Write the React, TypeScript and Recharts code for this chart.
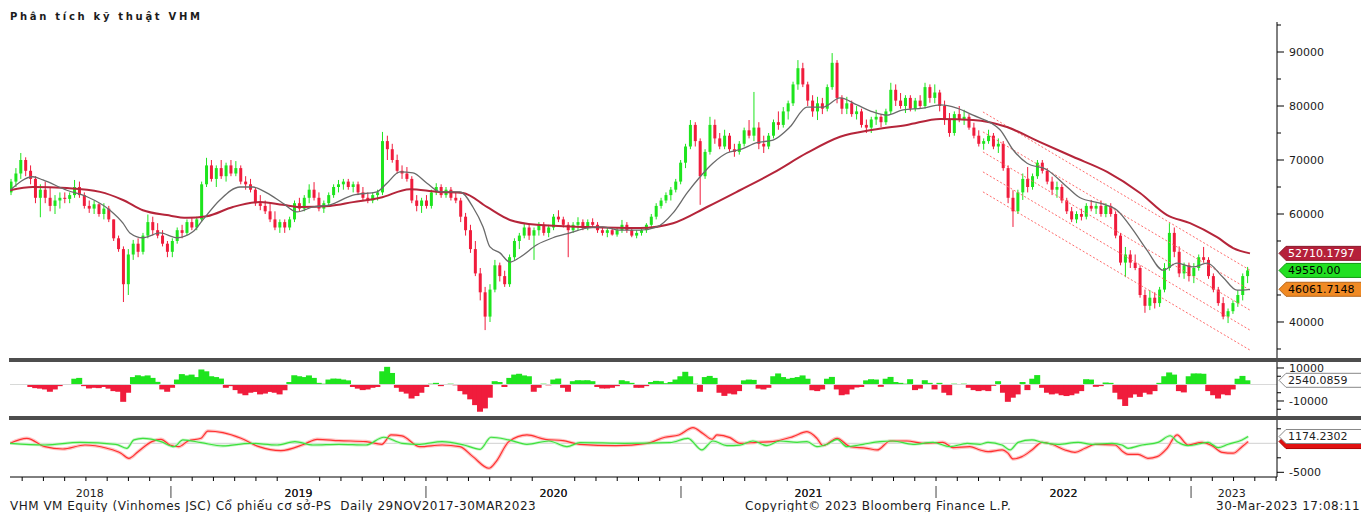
import React from "react";
import {
  ComposedChart,
  Bar,
  Line,
  XAxis,
  YAxis,
  ReferenceLine,
  ReferenceDot,
  Cell,
} from "recharts";

const FONT = "'DejaVu Sans', Verdana, sans-serif";
const INK = "#1c1c1c";
const W = 1361;
const PLOT_LEFT = 10;
const AXIS_W = 84;

// time axis in decimal years; first weekly bar = week of 17 May 2018 (listing)
const T_MIN = 2018.369;
const T_MAX = 2023.337;
const FIRST_WEEK = 2018.373;
const WEEK = 7 / 365.25;

const UP = "#1ee41e";
const DOWN = "#f01c3c";

// weekly candles [open, high, low, close], thousand VND
const ohlc2018 = [
  [64.0, 66.5, 63.5, 66.0], [66.0, 68.5, 65.0, 67.5], [67.5, 71.3, 66.5, 70.0], [70.0, 70.5, 67.0, 68.0],
  [68.0, 69.0, 65.5, 66.5], [66.5, 67.0, 62.0, 63.0], [63.0, 65.5, 59.4, 64.5], [64.5, 66.0, 62.0, 63.0],
  [63.0, 65.0, 60.5, 61.5], [61.5, 63.5, 60.0, 62.5], [62.5, 64.0, 61.0, 63.0], [63.0, 64.0, 62.0, 62.8],
  [62.8, 64.0, 62.0, 63.5], [63.5, 66.3, 63.0, 65.0], [65.0, 66.0, 63.0, 63.5], [63.5, 64.0, 61.0, 61.5],
  [61.5, 62.5, 60.2, 61.0], [61.0, 62.5, 60.0, 61.8], [61.8, 62.0, 59.5, 60.0], [60.0, 62.0, 59.0, 61.0],
  [61.0, 61.5, 58.5, 59.0], [59.0, 59.0, 55.0, 55.5], [55.5, 56.0, 53.0, 53.5], [53.5, 54.0, 43.7, 47.0],
  [47.0, 53.5, 45.0, 52.5], [52.5, 55.2, 51.5, 54.5], [54.5, 55.5, 52.0, 53.0], [53.0, 56.5, 52.5, 56.0],
  [56.0, 59.9, 55.5, 58.5], [58.5, 59.5, 56.0, 57.0], [57.0, 58.3, 55.5, 56.0], [56.0, 57.0, 54.0, 54.5],
  [54.5, 55.0, 52.0, 53.0],
];
const ohlc2019 = [
  [53.0, 55.5, 52.0, 55.0], [55.0, 57.5, 54.5, 57.0], [57.0, 58.0, 55.5, 56.5], [56.5, 59.0, 56.0, 58.5],
  [58.5, 59.4, 57.0, 57.5], [57.5, 59.5, 57.0, 59.0], [59.0, 66.0, 58.5, 65.5], [65.5, 70.4, 65.0, 69.0],
  [69.0, 70.0, 66.0, 66.5], [66.5, 69.0, 65.0, 68.5], [68.5, 70.0, 66.5, 67.0], [67.0, 69.5, 66.0, 69.0],
  [69.0, 70.0, 67.0, 67.5], [67.5, 69.8, 67.0, 68.5], [68.5, 69.0, 65.5, 66.0], [66.0, 67.0, 64.5, 65.5],
  [65.5, 66.5, 64.0, 64.5], [64.5, 65.0, 61.5, 62.0], [62.0, 63.5, 60.7, 61.5], [61.5, 62.5, 60.0, 60.5],
  [60.5, 62.0, 58.5, 59.0], [59.0, 60.5, 57.0, 57.5], [57.5, 59.0, 56.5, 58.5], [58.5, 59.0, 56.5, 57.5],
  [57.5, 59.5, 57.0, 59.0], [59.0, 62.5, 58.5, 62.0], [62.0, 63.0, 60.5, 61.0], [61.0, 63.5, 60.5, 63.0],
  [63.0, 65.5, 62.0, 64.5], [64.5, 65.9, 62.5, 63.0], [63.0, 64.0, 60.5, 61.0], [61.0, 62.5, 60.2, 62.0],
  [62.0, 64.0, 61.5, 63.5], [63.5, 65.5, 63.0, 65.0], [65.0, 66.3, 64.0, 65.5], [65.5, 66.5, 64.5, 66.0],
  [66.0, 66.5, 64.5, 65.0], [65.0, 66.0, 64.0, 65.5], [65.5, 66.0, 63.5, 64.0], [64.0, 65.0, 62.5, 63.0],
  [63.0, 64.0, 62.0, 62.5], [62.5, 64.0, 62.0, 63.5], [63.5, 64.5, 62.5, 64.0], [64.0, 75.2, 63.5, 73.5],
  [73.5, 74.5, 70.0, 72.0], [72.0, 73.0, 69.5, 70.0], [70.0, 71.0, 67.5, 68.0], [68.0, 69.0, 66.5, 67.5],
  [67.5, 68.7, 66.0, 66.5], [66.5, 67.0, 62.0, 62.5], [62.5, 63.5, 60.5, 61.5], [61.5, 63.0, 60.2, 62.5],
];
const ohlc2020 = [
  [62.5, 63.5, 61.0, 61.5], [61.5, 64.5, 61.0, 64.0], [64.0, 65.7, 63.5, 65.0], [65.0, 65.5, 63.0, 63.5],
  [63.5, 65.0, 63.0, 64.5], [64.5, 65.0, 62.5, 63.0], [63.0, 64.0, 62.0, 62.5], [62.5, 63.0, 58.5, 59.5],
  [59.5, 60.2, 56.0, 57.0], [57.0, 58.0, 52.8, 53.5], [53.5, 55.0, 48.5, 49.0], [49.0, 50.0, 44.0, 45.5],
  [45.5, 46.5, 38.5, 41.0], [41.0, 47.0, 40.0, 46.0], [46.0, 51.5, 45.5, 50.5], [50.5, 51.0, 47.5, 48.5],
  [48.5, 49.5, 46.5, 47.0], [47.0, 52.5, 46.5, 52.0], [52.0, 55.5, 51.5, 55.0], [55.0, 56.5, 53.5, 56.0],
  [56.0, 58.3, 55.5, 57.5], [57.5, 58.0, 55.2, 56.0], [56.0, 57.5, 51.5, 57.0], [57.0, 58.5, 56.0, 58.0],
  [58.0, 58.5, 56.0, 56.5], [56.5, 58.0, 55.7, 57.5], [57.5, 60.0, 57.0, 59.5], [59.5, 60.7, 58.5, 59.0],
  [59.0, 59.5, 57.5, 58.0], [58.0, 58.5, 52.0, 57.0], [57.0, 58.5, 56.5, 58.0], [58.0, 59.4, 57.0, 58.5],
  [58.5, 59.0, 57.0, 57.5], [57.5, 59.0, 57.0, 58.5], [58.5, 59.2, 57.5, 58.0], [58.0, 58.5, 56.5, 57.0],
  [57.0, 57.6, 56.0, 56.5], [56.5, 57.5, 55.7, 57.0], [57.0, 57.5, 56.0, 56.2], [56.2, 57.5, 55.8, 57.0],
  [57.0, 58.9, 56.5, 58.0], [58.0, 58.5, 56.5, 57.0], [57.0, 57.5, 55.7, 56.0], [56.0, 57.0, 55.5, 56.5],
  [56.5, 57.5, 56.0, 57.0], [57.0, 58.3, 56.5, 58.0], [58.0, 60.0, 57.5, 59.5], [59.5, 62.0, 59.0, 61.5],
  [61.5, 63.0, 61.0, 62.5], [62.5, 64.0, 62.0, 63.5], [63.5, 65.0, 62.5, 64.5], [64.5, 66.5, 64.0, 66.0],
  [66.0, 70.0, 65.5, 69.5],
];
const ohlc2021 = [
  [69.5, 73.0, 68.5, 72.5], [72.5, 77.4, 72.0, 76.5], [76.5, 77.0, 72.5, 73.5], [73.5, 74.0, 61.7, 67.0],
  [67.0, 72.0, 66.5, 71.5], [71.5, 78.0, 71.0, 76.5], [76.5, 77.5, 73.0, 74.0], [74.0, 75.0, 72.0, 72.5],
  [72.5, 75.6, 72.0, 74.5], [74.5, 75.0, 71.5, 72.0], [72.0, 73.0, 70.6, 71.5], [71.5, 73.5, 71.0, 73.0],
  [73.0, 76.0, 72.5, 75.5], [75.5, 77.4, 74.0, 74.5], [74.5, 82.6, 73.5, 76.0], [76.0, 77.0, 72.0, 73.0],
  [73.0, 74.5, 71.3, 72.5], [72.5, 75.0, 72.0, 74.5], [74.5, 77.5, 74.0, 77.0], [77.0, 79.0, 75.6, 76.5],
  [76.5, 79.8, 76.0, 79.0], [79.0, 81.0, 77.5, 80.5], [80.5, 84.5, 80.0, 84.0], [84.0, 88.5, 83.0, 87.0],
  [87.0, 88.0, 83.5, 84.0], [84.0, 84.5, 80.0, 81.0], [81.0, 82.0, 78.0, 79.0], [79.0, 81.7, 77.4, 80.5],
  [80.5, 81.5, 78.5, 79.5], [79.5, 84.0, 79.0, 83.5], [83.5, 89.8, 83.0, 88.0], [88.0, 88.5, 80.5, 81.5],
  [81.5, 82.0, 78.5, 79.5], [79.5, 81.7, 78.5, 80.5], [80.5, 81.0, 78.0, 78.5], [78.5, 80.0, 77.5, 79.0],
  [79.0, 79.5, 76.0, 76.5], [76.5, 77.5, 75.0, 76.0], [76.0, 78.0, 75.0, 77.5], [77.5, 79.3, 76.5, 78.0],
  [78.0, 78.5, 76.1, 77.0], [77.0, 79.5, 76.5, 79.0], [79.0, 84.3, 78.5, 83.0], [83.0, 84.0, 80.0, 81.0],
  [81.0, 82.4, 79.5, 80.0], [80.0, 82.0, 78.7, 81.5], [81.5, 82.0, 79.0, 79.5], [79.5, 81.5, 79.0, 81.0],
  [81.0, 82.0, 79.5, 80.0], [80.0, 84.3, 79.5, 83.5], [83.5, 84.0, 80.6, 81.5], [81.5, 84.0, 80.5, 82.5],
];
const ohlc2022 = [
  [82.5, 83.0, 79.0, 80.0], [80.0, 81.0, 76.5, 77.5], [77.5, 78.7, 74.3, 75.0], [75.0, 79.0, 74.5, 78.5],
  [78.5, 80.0, 77.0, 77.5], [77.5, 79.3, 76.5, 78.0], [78.0, 78.5, 75.6, 76.0], [76.0, 76.9, 74.0, 74.5],
  [74.5, 75.5, 72.5, 73.0], [73.0, 74.0, 71.9, 73.5], [73.5, 75.6, 73.0, 74.5], [74.5, 75.0, 72.0, 72.5],
  [72.5, 74.0, 71.3, 73.0], [73.0, 73.5, 68.0, 68.5], [68.5, 69.0, 62.0, 63.0], [63.0, 64.4, 57.6, 60.5],
  [60.5, 64.5, 60.0, 64.0], [64.0, 67.5, 62.6, 66.5], [66.5, 68.7, 64.0, 65.0], [65.0, 67.5, 64.5, 67.0],
  [67.0, 70.0, 66.5, 69.5], [69.5, 70.0, 67.5, 68.0], [68.0, 68.5, 65.5, 66.0], [66.0, 66.9, 63.5, 64.5],
  [64.5, 66.0, 63.0, 65.0], [65.0, 65.5, 62.0, 62.5], [62.5, 63.0, 60.0, 60.5], [60.5, 61.3, 58.5, 59.0],
  [59.0, 60.5, 58.3, 60.0], [60.0, 61.0, 58.8, 59.5], [59.5, 62.0, 59.0, 61.5], [61.5, 62.6, 60.5, 61.0],
  [61.0, 62.0, 60.0, 61.5], [61.5, 62.5, 59.5, 60.0], [60.0, 62.0, 59.4, 61.5], [61.5, 62.0, 59.5, 60.0],
  [60.0, 60.5, 55.5, 56.0], [56.0, 56.5, 50.5, 51.0], [51.0, 53.9, 48.3, 52.5], [52.5, 53.3, 50.0, 51.0],
  [51.0, 52.5, 49.6, 50.0], [50.0, 50.5, 44.5, 45.0], [45.0, 46.0, 41.7, 43.0], [43.0, 45.9, 42.2, 44.5],
  [44.5, 45.5, 42.5, 43.5], [43.5, 46.5, 42.8, 46.0], [46.0, 50.9, 45.5, 50.0], [50.0, 58.3, 49.5, 56.5],
  [56.5, 57.5, 52.0, 53.0], [53.0, 54.0, 48.3, 49.0], [49.0, 51.0, 48.0, 50.5], [50.5, 51.0, 47.5, 48.5],
];
const ohlc2023 = [
  [48.5, 50.9, 47.2, 50.0], [50.0, 52.5, 49.5, 52.0], [52.0, 53.9, 51.0, 51.5], [51.5, 52.0, 48.0, 48.5],
  [48.5, 49.0, 45.5, 46.0], [46.0, 46.5, 43.0, 43.5], [43.5, 44.6, 40.5, 41.0], [41.0, 42.5, 39.8, 42.0],
  [42.0, 44.0, 41.5, 43.5], [43.5, 45.9, 42.8, 45.0], [45.0, 49.0, 44.0, 48.5], [48.5, 50.2, 47.2, 49.55],
];

// weekly histogram (price vs. average), thousand
const hist2018 = [
  0, 0, 0, 0, -1.5, -2.2, -2.5, -3.0, -4.4, -3.0, -1.0, -0.3, 0.3, 3.5, 4.0, -1.0, -2.4, -2.0, -2.2, -1.5,
  -2.5, -4.0, -4.4, -10.5, -5.0, 4.5, 5.6, 5.0, 5.5, 4.0, 1.6, -3.0, -4.4,
];
const hist2019 = [
  -2.0, 3.0, 6.3, 5.5, 6.0, 4.5, 9.1, 8.0, 5.0, 4.5, 3.6, -2.0, -1.0, -3.4, -5.5, -6.5, -5.0, -4.5, -6.0, -5.5,
  -4.5, -5.0, -6.0, -3.5, 1.5, 5.6, 5.0, 4.5, 5.5, 4.0, 1.0, 0.5, 3.0, 3.6, 3.5, 3.0, 2.5, -1.5, -2.5, -3.4,
  -3.0, -2.0, -1.5, 8.0, 10.7, 7.0, -2.0, -4.4, -5.5, -8.5, -7.0, -5.0,
];
const hist2020 = [
  -1.5, 0.5, 1.0, -1.0, 0.3, 0.5, -0.5, -4.0, -6.0, -9.0, -12.5, -16.5, -14.5, -8.0, 2.0, 1.5, -1.5, 4.0, 6.0, 6.5,
  5.5, 5.0, -4.4, -2.0, 0.5, -0.5, 3.0, 3.6, -2.0, -4.4, 2.0, 2.6, 2.5, 2.6, 2.0, -1.5, -2.4, -2.4, -2.0, -1.0,
  2.6, 2.0, 1.0, -2.0, -2.0, -1.0, 1.5, 2.2, 2.0, 0.8, 1.5, 3.0, 5.0,
];
const hist2021 = [
  7.7, 5.0, 0.5, -4.4, 4.5, 5.2, 4.0, -5.0, -6.9, -5.5, -6.0, -4.0, 2.5, 3.0, 2.8, -2.5, -3.0, -2.0, 5.0, 6.7,
  4.5, 3.5, 4.0, 4.5, 5.5, 3.5, -3.5, -4.0, -3.0, 3.5, 4.6, -3.0, -6.5, -6.0, -3.0, -1.8, -1.5, 2.5, 3.2, 3.0,
  -1.4, 3.5, 4.6, 1.5, 1.0, 0.5, 3.2, -3.4, -2.5, 2.6, 1.0, -3.0,
];
const hist2022 = [
  1.0, -5.0, -6.5, 0.5, 0.3, 0.5, -2.0, -3.4, -4.0, -3.5, -4.0, -0.8, 2.0, -5.0, -10.5, -8.0, -6.0, 1.5, -3.4, 3.5,
  5.7, -2.0, -5.0, -6.0, -5.5, -6.5, -7.0, -6.5, -5.5, -4.0, 3.2, 3.0, -1.4, -1.0, 1.2, 1.0, -5.0, -9.0, -13.0, -8.0,
  -6.0, -7.5, -5.0, -6.0, -4.0, 1.0, 5.0, 7.3, 6.0, -4.0, -4.8, 5.0,
];
const hist2023 = [6.7, 6.7, 6.5, -4.0, -6.5, -8.5, -6.0, -6.5, -3.0, 3.5, 5.2, 2.54];

// moving averages [year, thousand VND]
const maShort = [
  [2018.369, 64.4], [2018.459, 66.9], [2018.498, 66.3], [2018.592, 64.4], [2018.671, 63.2], [2018.761, 60.7],
  [2018.812, 58.3], [2018.839, 56.5], [2018.89, 55.6], [2018.957, 56.5], [2019.024, 55.6], [2019.086, 56.7],
  [2019.125, 58.9], [2019.192, 62.6], [2019.271, 65.0], [2019.322, 65.0], [2019.376, 63.9], [2019.439, 62.0],
  [2019.494, 60.4], [2019.557, 61.3], [2019.624, 61.7], [2019.714, 63.5], [2019.808, 64.1], [2019.847, 65.7],
  [2019.898, 67.8], [2019.949, 67.6], [2020.004, 65.7], [2020.055, 64.1], [2020.133, 64.1], [2020.184, 61.3],
  [2020.224, 57.6], [2020.251, 53.9], [2020.29, 52.8], [2020.329, 51.1], [2020.369, 52.0], [2020.435, 54.3],
  [2020.498, 55.6], [2020.565, 56.5], [2020.631, 57.4], [2020.694, 57.6], [2020.761, 57.0], [2020.839, 57.0],
  [2020.906, 57.6], [2020.969, 60.2], [2021.024, 63.9], [2021.075, 66.9], [2021.125, 69.4], [2021.18, 71.3],
  [2021.231, 71.9], [2021.298, 73.2], [2021.361, 73.7], [2021.427, 76.1], [2021.494, 79.8], [2021.557, 79.8],
  [2021.624, 81.5], [2021.69, 80.2], [2021.753, 78.9], [2021.808, 78.3], [2021.871, 79.3], [2021.949, 79.6],
  [2022.016, 80.2], [2022.082, 79.6], [2022.145, 78.3], [2022.251, 75.6], [2022.302, 71.9], [2022.357, 69.4],
  [2022.435, 68.2], [2022.514, 65.0], [2022.565, 63.0], [2022.643, 62.0], [2022.71, 60.7], [2022.773, 57.0],
  [2022.827, 53.3], [2022.89, 49.6], [2022.945, 50.9], [2023.008, 50.2], [2023.063, 50.9], [2023.125, 48.3],
  [2023.18, 45.9], [2023.231, 46.06],
];
const maLong = [
  [2018.369, 64.4], [2018.459, 65.0], [2018.592, 64.8], [2018.722, 64.1], [2018.812, 62.6], [2018.89, 60.7],
  [2018.984, 59.8], [2019.063, 59.3], [2019.141, 59.6], [2019.243, 61.3], [2019.349, 62.2], [2019.439, 61.7],
  [2019.506, 61.3], [2019.624, 61.5], [2019.714, 62.2], [2019.82, 63.0], [2019.937, 64.6], [2020.043, 64.1],
  [2020.145, 63.9], [2020.239, 61.3], [2020.329, 58.9], [2020.435, 58.0], [2020.631, 57.6], [2020.839, 57.4],
  [2020.969, 58.3], [2021.102, 61.3], [2021.231, 64.4], [2021.361, 67.6], [2021.494, 71.3], [2021.624, 74.3],
  [2021.753, 75.6], [2021.886, 76.5], [2022.016, 77.6], [2022.145, 77.4], [2022.278, 76.1], [2022.408, 73.3],
  [2022.537, 70.6], [2022.671, 67.8], [2022.8, 63.9], [2022.906, 59.8], [2022.996, 58.3], [2023.102, 55.7],
  [2023.165, 53.7], [2023.231, 52.71],
];

// regression channel: values at both ends
const channelStart = 2022.184;
const channelEnd = 2023.231;
const channelFrom = [78.9, 75.2, 71.5, 67.8, 64.1];
const channelTo = [49.6, 45.9, 42.2, 38.5, 34.8];

// oscillator lines [year, thousand]
const oscRed = [
  [2018.369, 0], [2018.435, 0.86], [2018.506, -0.58], [2018.576, -0.98], [2018.663, -0.29], [2018.749, -0.86],
  [2018.804, -1.7], [2018.835, -2.6], [2018.871, -1.44], [2018.925, 0.29], [2018.961, 0.69], [2018.996, -0.29],
  [2019.031, -0.58], [2019.067, 0.4], [2019.118, 0.86], [2019.145, 2.1], [2019.204, 1.84], [2019.275, 0.86],
  [2019.345, -0.58], [2019.431, -1.27], [2019.522, -0.17], [2019.573, 0.69], [2019.659, 0.46], [2019.765, 0.29],
  [2019.827, -0.17], [2019.863, 1.44], [2019.906, 1.27], [2019.976, -0.58], [2020.063, -0.29], [2020.133, -0.58],
  [2020.184, -2.3], [2020.247, -4.3], [2020.275, -3.16], [2020.325, 0.29], [2020.396, 1.44], [2020.467, 0.69],
  [2020.537, 0.46], [2020.604, -0.17], [2020.745, -0.4], [2020.867, 0], [2020.937, 1.04], [2020.992, 1.44],
  [2021.047, 2.7], [2021.086, 1.7], [2021.122, 0.69], [2021.141, 1.44], [2021.192, 0.98], [2021.231, 0],
  [2021.298, 0.17], [2021.361, 0.29], [2021.439, 1.15], [2021.494, 2.0], [2021.533, 0.86], [2021.557, -0.4],
  [2021.612, 0.86], [2021.663, -0.58], [2021.729, -0.86], [2021.769, -1.15], [2021.82, 0.4], [2021.886, 0.4],
  [2021.949, 0], [2022.027, 0.17], [2022.067, -0.75], [2022.133, -0.58], [2022.173, -1.15], [2022.204, -1.44],
  [2022.259, -1.15], [2022.282, -1.7], [2022.302, -2.7], [2022.337, -2.3], [2022.376, -1.15], [2022.416, 0.17],
  [2022.455, -0.17], [2022.506, -1.15], [2022.545, -1.55], [2022.584, -0.86], [2022.624, -0.17], [2022.702, -0.29],
  [2022.733, -1.44], [2022.753, -1.9], [2022.792, -1.9], [2022.831, -2.6], [2022.867, -2.3], [2022.906, -0.86],
  [2022.945, 1.44], [2022.988, -0.29], [2023.043, 0.17], [2023.082, -0.4], [2023.122, -1.55], [2023.165, -1.7],
  [2023.2, -0.58], [2023.224, 0.3],
];
const oscGreen = [
  [2018.369, 0], [2018.506, -0.29], [2018.643, 0.17], [2018.784, -0.17], [2018.827, -0.86], [2018.855, 0.58],
  [2018.89, 0.86], [2018.961, 0.29], [2019.012, -0.58], [2019.047, 0.58], [2019.118, 0.12], [2019.204, -0.46],
  [2019.31, 0], [2019.416, -0.29], [2019.486, 0.29], [2019.557, -0.29], [2019.659, -0.17], [2019.765, -0.29],
  [2019.835, 1.04], [2019.906, 0], [2019.976, -0.17], [2020.063, 0.29], [2020.149, -0.29], [2020.212, -1.04],
  [2020.255, 1.04], [2020.325, 0.58], [2020.396, -0.17], [2020.482, 0.4], [2020.553, -0.58], [2020.604, 0.12],
  [2020.78, 0], [2020.957, 0.12], [2021.027, 0.86], [2021.082, -1.15], [2021.125, 0.4], [2021.18, -0.4],
  [2021.231, -0.3], [2021.282, 0.4], [2021.337, -0.4], [2021.388, 0.4], [2021.455, 0.17], [2021.494, 0.29],
  [2021.533, -0.58], [2021.573, -0.17], [2021.612, 0.69], [2021.651, -0.58], [2021.714, -0.17], [2021.78, 0.29],
  [2021.831, 0.4], [2021.91, -0.17], [2021.988, 0.17], [2022.055, -0.58], [2022.122, 0], [2022.173, -0.17],
  [2022.204, 0.17], [2022.259, -0.3], [2022.29, -1.15], [2022.322, 0.17], [2022.376, 0.58], [2022.416, 0.17],
  [2022.478, -0.17], [2022.557, 0.17], [2022.612, -0.17], [2022.69, 0], [2022.729, -0.29], [2022.753, -0.86],
  [2022.808, -0.29], [2022.871, 0.17], [2022.918, 1.3], [2022.949, 0.17], [2022.988, -0.4], [2023.067, 0.17],
  [2023.106, -0.75], [2023.145, -0.17], [2023.2, 0.58], [2023.224, 1.17],
];

const yearLabels: [string, number][] = [
  ["2018", 2018.682], ["2019", 2019.5], ["2020", 2020.5], ["2021", 2021.5], ["2022", 2022.5], ["2023", 2023.16],
];
const yearStarts = [2019, 2020, 2021, 2022, 2023];

const candles = [...ohlc2018, ...ohlc2019, ...ohlc2020, ...ohlc2021, ...ohlc2022, ...ohlc2023].map(
  ([o, h, l, c], i) => ({ t: FIRST_WEEK + i * WEEK, o, h, l, c, range: [l, h] })
);
const histogram = [...hist2018, ...hist2019, ...hist2020, ...hist2021, ...hist2022, ...hist2023].map((v, i) => ({
  t: FIRST_WEEK + i * WEEK,
  v,
}));
const pts = (arr: number[][]) => arr.map(([t, v]) => ({ t, v }));

const monthTicks: number[] = [];
for (let y = 2018; y <= 2023; y++) {
  for (let m = 0; m < 12; m++) {
    const t = y + m / 12;
    if (t > T_MIN && t < T_MAX) monthTicks.push(t);
  }
}
const timeTicks = [...monthTicks, ...yearLabels.map((d) => d[1])].sort((a, b) => a - b);

const Candle = (props: any) => {
  const { x, y, width, height, payload } = props;
  const { o, h, l, c } = payload;
  const top = Math.min(y, y + height);
  const full = Math.abs(height);
  const k = h === l ? 0 : full / (h - l);
  const yo = top + (h - o) * k;
  const yc = top + (h - c) * k;
  const color = c >= o ? UP : DOWN;
  const cx = x + width / 2;
  return (
    <g>
      <line x1={cx} x2={cx} y1={top} y2={top + full} stroke={color} strokeWidth={1} />
      <rect x={cx - 1.5} y={Math.min(yo, yc)} width={3} height={Math.max(1, Math.abs(yc - yo))} fill={color} />
    </g>
  );
};

// histogram column, a little wider than the week spacing so it reads as a filled area
const HistBar = (props: any) => {
  const { x, y, width, height, payload } = props;
  const cx = x + width / 2;
  const top = Math.min(y, y + height);
  return <rect x={cx - 3} y={top} width={6} height={Math.max(0.5, Math.abs(height))} fill={payload.v >= 0 ? UP : DOWN} />;
};

const valueTick = (labelled: number[]) => (props: any) => {
  const { x, y, payload } = props;
  const v = payload.value;
  const major = labelled.includes(v);
  return (
    <g>
      <line x1={x} x2={x + (major ? 7 : 4)} y1={y} y2={y} stroke="#000" />
      {major && (
        <text x={x + 12} y={y + 4} fontSize={11} fontFamily={FONT} fill={INK}>
          {Math.round(v * 1000)}
        </text>
      )}
    </g>
  );
};

const TimeTick = (props: any) => {
  const { x, y, payload } = props;
  const v = payload.value;
  const label = yearLabels.find((d) => Math.abs(d[1] - v) < 1e-6);
  if (label) {
    return (
      <text x={x} y={y + 20} textAnchor="middle" fontSize={11} fontFamily={FONT} fill={INK}>
        {label[0]}
      </text>
    );
  }
  const isYear = yearStarts.some((t) => Math.abs(t - v) < 1e-6);
  return (
    <g>
      <line x1={x} x2={x} y1={y} y2={y + 4} stroke="#000" />
      {isYear && <line x1={x} x2={x} y1={y + 9} y2={y + 21} stroke="#444" />}
    </g>
  );
};

const tag = (text: string, bg: string, fg: string, border: string) => (props: any) => {
  const { cx, cy } = props;
  const x0 = cx + 2;
  const hh = 7;
  return (
    <g>
      <polygon
        points={`${x0},${cy} ${x0 + 7},${cy - hh} ${x0 + 100},${cy - hh} ${x0 + 100},${cy + hh} ${x0 + 7},${cy + hh}`}
        fill={bg}
        stroke={border}
      />
      {text && (
        <text x={x0 + 9} y={cy + 4} fontSize={11} fontFamily={FONT} fill={fg}>
          {text}
        </text>
      )}
    </g>
  );
};

const sep = (top: number) => (
  <div style={{ position: "absolute", left: 9, top, width: W - 9, height: 4, background: "#4d4d4d" }} />
);

const abs = (left: number, top: number, extra: React.CSSProperties = {}): React.CSSProperties => ({
  position: "absolute",
  left,
  top,
  fontFamily: FONT,
  fontSize: 12,
  lineHeight: "12px",
  letterSpacing: 0.5,
  color: INK,
  whiteSpace: "pre",
  ...extra,
});

export default function App() {
  return (
    <div style={{ position: "absolute", left: 0, top: 0, width: W, height: 512, background: "#fff", overflow: "hidden" }}>
      <div style={abs(10, 11, { fontWeight: "bold", fontSize: 10, letterSpacing: 2.7, lineHeight: "11px" })}>
        Phân tích kỹ thuật VHM
      </div>

      <div style={{ position: "absolute", left: 0, top: 0 }}>
        <ComposedChart width={W} height={360} data={candles} margin={{ top: 22, right: 0, bottom: 2, left: PLOT_LEFT }}>
          <XAxis type="number" dataKey="t" domain={[T_MIN, T_MAX]} hide allowDataOverflow />
          <YAxis
            orientation="right"
            width={AXIS_W}
            type="number"
            domain={[33.333, 95.556]}
            allowDataOverflow
            ticks={[35, 40, 45, 55, 60, 65, 70, 75, 80, 85, 90, 95]}
            interval={0}
            tick={valueTick([40, 60, 70, 80, 90])}
            tickLine={false}
            tickSize={0}
            tickMargin={0}
            axisLine={{ stroke: "#000" }}
          />
          {channelFrom.map((v, i) => (
            <ReferenceLine
              key={i}
              segment={[
                { x: channelStart, y: v },
                { x: channelEnd, y: channelTo[i] },
              ]}
              stroke="#ff6b6b"
              strokeDasharray="2 2"
              ifOverflow="visible"
            />
          ))}
          <Bar dataKey="range" barSize={4} shape={Candle} isAnimationActive={false} />
          <Line data={pts(maLong)} dataKey="v" type="monotone" stroke="#b5253a" strokeWidth={2} dot={false} isAnimationActive={false} />
          <Line data={pts(maShort)} dataKey="v" type="monotone" stroke="#6a6a6a" strokeWidth={1.3} dot={false} isAnimationActive={false} />
          <ReferenceDot x={T_MAX} y={52.7101797} r={0} ifOverflow="visible" shape={tag("52710.1797", "#b5203a", "#fff", "#8a1a2c")} />
          <ReferenceDot x={T_MAX} y={49.55} r={0} ifOverflow="visible" shape={tag("49550.00", "#22e022", "#000", "#119911")} />
          <ReferenceDot x={T_MAX} y={46.0617148} r={0} ifOverflow="visible" shape={tag("46061.7148", "#f08a24", "#000", "#b8661a")} />
        </ComposedChart>
      </div>

      <div style={{ position: "absolute", left: 0, top: 360 }}>
        <ComposedChart width={W} height={58} data={histogram} margin={{ top: 2, right: 0, bottom: 2, left: PLOT_LEFT }}>
          <XAxis type="number" dataKey="t" domain={[T_MIN, T_MAX]} hide allowDataOverflow />
          <YAxis
            orientation="right"
            width={AXIS_W}
            type="number"
            domain={[-19.091, 13.636]}
            allowDataOverflow
            ticks={[-15, -10, -5, 5, 10]}
            interval={0}
            tick={valueTick([-10, 10])}
            tickLine={false}
            tickSize={0}
            tickMargin={0}
            axisLine={{ stroke: "#000" }}
          />
          <ReferenceLine y={0} stroke="#d9d9d9" />
          <Bar dataKey="v" barSize={5} shape={HistBar} isAnimationActive={false}>
            {histogram.map((d, i) => (
              <Cell key={i} fill={d.v >= 0 ? UP : DOWN} />
            ))}
          </Bar>
          <ReferenceDot x={T_MAX} y={2.5400859} r={0} ifOverflow="visible" shape={tag("2540.0859", "#fff", "#222", "#888")} />
        </ComposedChart>
      </div>

      <div style={{ position: "absolute", left: 0, top: 418 }}>
        <ComposedChart width={W} height={94} margin={{ top: 2, right: 0, bottom: 0, left: PLOT_LEFT }}>
          <XAxis
            type="number"
            dataKey="t"
            domain={[T_MIN, T_MAX]}
            allowDataOverflow
            ticks={timeTicks}
            interval={0}
            tick={TimeTick}
            tickLine={false}
            tickSize={0}
            tickMargin={0}
            height={35}
            axisLine={{ stroke: "#000" }}
          />
          <YAxis
            orientation="right"
            width={AXIS_W}
            type="number"
            domain={[-5.81, 4.017]}
            allowDataOverflow
            ticks={[-5, -2.5, 2.5]}
            interval={0}
            tick={valueTick([-5])}
            tickLine={false}
            tickSize={0}
            tickMargin={0}
            axisLine={{ stroke: "#000" }}
          />
          <ReferenceLine y={0} stroke="#d0d0d0" />
          <Line data={pts(oscRed)} dataKey="v" type="monotone" stroke="#ffc4c4" strokeWidth={3.5} dot={false} isAnimationActive={false} />
          <Line data={pts(oscGreen)} dataKey="v" type="monotone" stroke="#c8f5c8" strokeWidth={3} dot={false} isAnimationActive={false} />
          <Line data={pts(oscRed)} dataKey="v" type="monotone" stroke="#ff3030" strokeWidth={1.2} dot={false} isAnimationActive={false} />
          <Line data={pts(oscGreen)} dataKey="v" type="monotone" stroke="#3ee03e" strokeWidth={1.2} dot={false} isAnimationActive={false} />
          <ReferenceDot x={T_MAX} y={0.3} r={0} ifOverflow="visible" shape={tag("", "#e01010", "#fff", "#a00")} />
          <ReferenceDot x={T_MAX} y={1.1742302} r={0} ifOverflow="visible" shape={tag("1174.2302", "#fff", "#222", "#888")} />
        </ComposedChart>
      </div>

      {sep(358)}
      {sep(416)}

      <div style={abs(10, 500)}>VHM VM Equity (Vinhomes JSC) Cổ phiếu cơ sở-PS  Daily 29NOV2017-30MAR2023</div>
      <div style={abs(745, 500)}>Copyright© 2023 Bloomberg Finance L.P.</div>
      <div style={abs(1216, 500)}>30-Mar-2023 17:08:11</div>
    </div>
  );
}
